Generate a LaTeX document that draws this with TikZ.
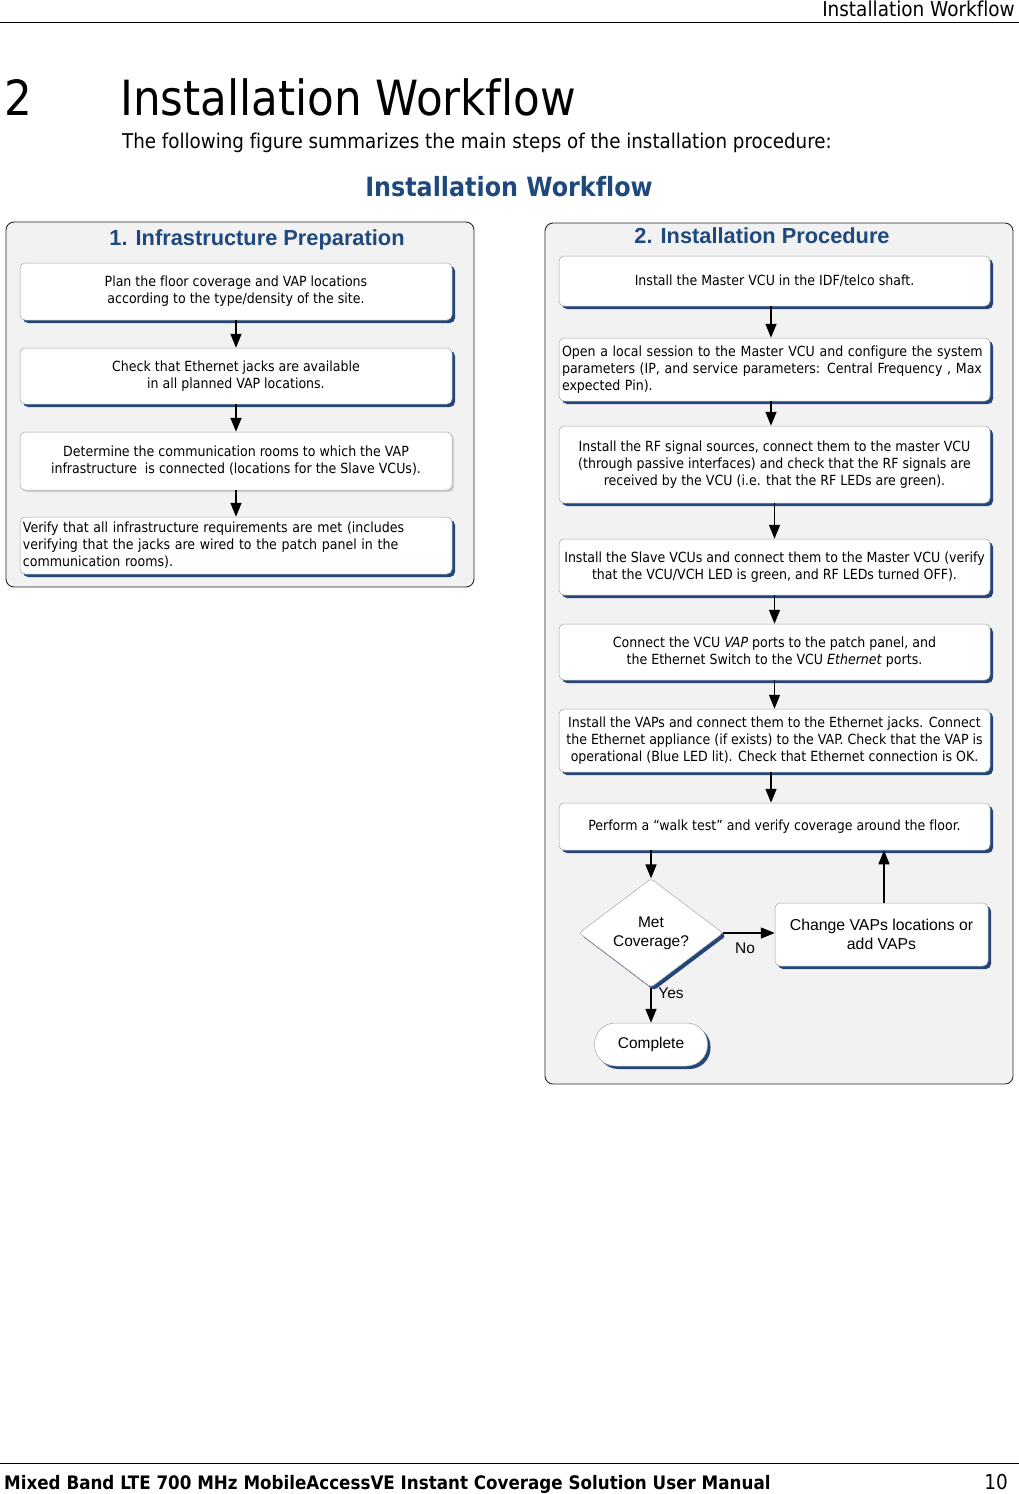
\documentclass[tikz,border=0pt]{standalone}
\usepackage{fontspec}
\setmainfont[Ligatures=NoCommon]{DejaVu Sans Condensed}
\newfontfamily\arialf{Liberation Sans}
\usetikzlibrary{shapes.geometric,shadows,arrows.meta}
\definecolor{panelfill}{HTML}{F2F2F2}
\definecolor{titleblue}{HTML}{1F497D}
\definecolor{shadowblue}{HTML}{22467A}
\definecolor{boxline}{HTML}{A6A6A6}
\begin{document}
\begin{tikzpicture}[x=1pt,y=-1pt,
  panel/.style={draw=black!85, fill=panelfill, rounded corners=8pt, line width=0.9pt, inner sep=0pt},
  ptitle/.style={font=\arialf\bfseries\fontsize{21.8}{26}\selectfont, text=titleblue, inner sep=0pt},
  boxfont/.style={font=\fontsize{14}{17}\selectfont},
  stepbox/.style={draw=boxline, fill=white, rounded corners=5pt, line width=0.5pt,
    copy shadow={shadow xshift=3pt, shadow yshift=-3pt, fill=shadowblue, draw=none},
    inner sep=3pt, align=center, boxfont},
  lightbox/.style={draw=boxline, fill=white, rounded corners=5pt, line width=0.5pt,
    copy shadow={shadow xshift=2pt, shadow yshift=-2pt, fill=boxline!70!shadowblue!40, draw=none},
    inner sep=3pt, align=center, boxfont},
  flow/.style={line width=1.5pt, -{Triangle[length=14pt,width=11pt]}},
  lab/.style={font=\arialf\fontsize{15.5}{18}\selectfont, inner sep=0pt}
]
\useasboundingbox[fill=white] (0,0) rectangle (1019,1494);

% page header and footer
\node[anchor=base east, inner sep=0pt, font=\fontsize{20.5}{24}\selectfont] (hdr) at (1015,16) {Installation Workflow};
\draw[line width=1pt] (0,22) -- (1019,22);
\node[anchor=base west, inner sep=0pt, font=\fontsize{48.5}{54}\selectfont] (secnum) at (4,115) {2};
\node[anchor=base west, inner sep=0pt, font=\fontsize{48.5}{54}\selectfont] (sectitle) at (120,115) {Installation Workflow};
\node[anchor=base west, inner sep=0pt, font=\fontsize{20.3}{24}\selectfont] (intro) at (122,148) {The following figure summarizes the main steps of the installation procedure:};
\node[inner sep=0pt, text=titleblue, font=\bfseries\fontsize{26.5}{31}\selectfont] (figtitle) at (509,187) {Installation Workflow};
\draw[line width=1pt] (0,1463) -- (1019,1463);
\node[anchor=base west, inner sep=0pt, font=\bfseries\fontsize{18.6}{22}\selectfont] (ftr) at (4,1489) {Mixed Band LTE 700 MHz MobileAccessVE Instant Coverage Solution User Manual};
\node[anchor=base east, inner sep=0pt, font=\fontsize{20.5}{24}\selectfont] (pg) at (1008,1489) {10};

% panel 1
\node[panel, minimum width=468pt, minimum height=365pt] (P1) at (240,404.5) {};
\node[ptitle] (T1) at (257,240) {1. Infrastructure Preparation};
\node[stepbox, minimum width=432pt, minimum height=57pt] (L1) at (236,291.5) {Plan the floor coverage and VAP locations\\according to the type/density of the site.};
\node[stepbox, minimum width=432pt, minimum height=56pt] (L2) at (236,376) {Check that Ethernet jacks are available\\in all planned VAP locations.};
\node[lightbox, minimum width=432pt, minimum height=58pt] (L3) at (236,461) {Determine the communication rooms to which the VAP\\infrastructure\ \ is connected (locations for the Slave VCUs).};
\node[stepbox, minimum width=432pt, minimum height=57pt, align=left, text width=426pt] (L4) at (236,545.5) {Verify that all infrastructure requirements are met (includes\\verifying that the jacks are wired to the patch panel in the\\communication rooms).};
\draw[flow] (L1) -- (L2);
\draw[flow] (L2) -- (L3);
\draw[flow] (L3) -- (L4);

% panel 2
\node[panel, minimum width=468pt, minimum height=861pt] (P2) at (779,653.5) {};
\node[ptitle] (T2) at (762,236) {2. Installation Procedure};
\node[stepbox, minimum width=431pt, minimum height=50pt] (R1) at (774.5,281) {Install the Master VCU in the IDF/telco shaft.};
\node[stepbox, minimum width=431pt, minimum height=63pt, align=left, text width=425pt] (R2) at (774.5,369.5) {Open a local session to the Master VCU and configure the system\\parameters (IP, and service parameters: Central Frequency , Max\\expected Pin).};
\node[stepbox, minimum width=431pt, minimum height=77pt] (R3) at (774.5,464.5) {Install the RF signal sources, connect them to the master VCU\\(through passive interfaces) and check that the RF signals are\\received by the VCU (i.e. that the RF LEDs are green).};
\node[stepbox, minimum width=431pt, minimum height=56pt] (R4) at (774.5,567) {Install the Slave VCUs and connect them to the Master VCU (verify\\that the VCU/VCH LED is green, and RF LEDs turned OFF).};
\node[stepbox, minimum width=431pt, minimum height=56pt] (R5) at (774.5,652) {Connect the VCU \textit{VAP} ports to the patch panel, and\\the Ethernet Switch to the VCU \textit{Ethernet} ports.};
\node[stepbox, minimum width=431pt, minimum height=63pt] (R6) at (774.5,740.5) {Install the VAPs and connect them to the Ethernet jacks. Connect\\the Ethernet appliance (if exists) to the VAP. Check that the VAP is\\operational (Blue LED lit). Check that Ethernet connection is OK.};
\node[stepbox, minimum width=431pt, minimum height=47pt] (R7) at (774.5,826.5) {Perform a “walk test” and verify coverage around the floor.};

\node[diamond, draw=boxline, fill=white, line width=0.5pt, rounded corners=3pt,
  copy shadow={shadow xshift=3pt, shadow yshift=-3pt, fill=shadowblue, draw=none},
  minimum width=144pt, minimum height=98pt, inner sep=0pt, align=center,
  font=\arialf\fontsize{15.5}{19}\selectfont] (D) at (651,933) {Met\\Coverage?};
\node[stepbox, minimum width=213pt, minimum height=63pt, font=\arialf\fontsize{15.8}{19.5}\selectfont] (C) at (881.5,934.5) {Change VAPs locations or\\add VAPs};
\node[stepbox, rounded corners=21pt, minimum width=113pt, minimum height=43pt, font=\arialf\fontsize{15.5}{19}\selectfont] (K) at (651,1044.5) {Complete};

\draw[flow] ([xshift=-3.5pt]R1.south) -- ([xshift=-3.5pt]R2.north);
\draw[flow] ([xshift=-3.5pt]R2.south) -- ([xshift=-3.5pt]R3.north);
\draw[flow] (R3) -- (R4);
\draw[flow] (R4) -- (R5);
\draw[flow] (R5) -- (R6);
\draw[flow] ([xshift=-3.5pt]R6.south) -- ([xshift=-3.5pt]R7.north);
\draw[flow] (R7.south -| D.north) -- (D.north);
\draw[flow] (D.east) -- (D.east -| C.west);
\draw[flow] ([xshift=2.5pt]C.north) -- ([xshift=2.5pt]C.north |- R7.south);
\draw[flow] (D.south) -- (K.north);
\node[lab] (no) at (745,948) {No};
\node[lab] (yes) at (671,993) {Yes};
\end{tikzpicture}
\end{document}
